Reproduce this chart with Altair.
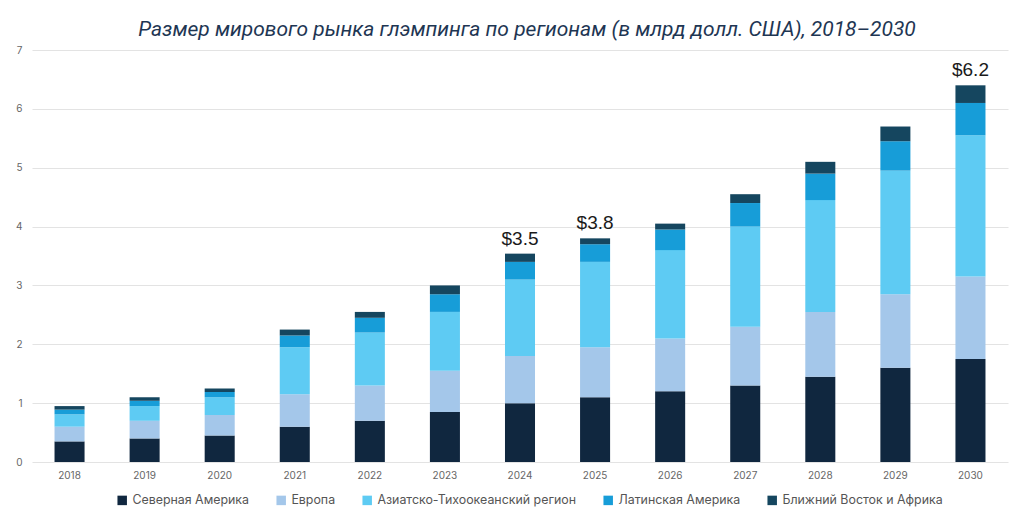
import altair as alt
import pandas as pd

# Years and regional market sizes (USD bn), bottom-to-top stacking order
years = [str(y) for y in range(2018, 2031)]
regions = [
    "Северная Америка",
    "Европа",
    "Азиатско-Тихоокеанский регион",
    "Латинская Америка",
    "Ближний Восток и Африка",
]
north_america = [0.35, 0.40, 0.45, 0.60, 0.70, 0.85, 1.00, 1.10, 1.20, 1.30, 1.45, 1.60, 1.75]
europe        = [0.25, 0.30, 0.35, 0.55, 0.60, 0.70, 0.80, 0.85, 0.90, 1.00, 1.10, 1.25, 1.40]
asia_pacific  = [0.21, 0.25, 0.30, 0.80, 0.90, 1.00, 1.30, 1.45, 1.50, 1.70, 1.90, 2.10, 2.40]
latin_america = [0.08, 0.09, 0.09, 0.20, 0.25, 0.30, 0.30, 0.30, 0.35, 0.40, 0.45, 0.50, 0.55]
mea           = [0.06, 0.06, 0.06, 0.10, 0.10, 0.15, 0.14, 0.10, 0.10, 0.15, 0.20, 0.25, 0.30]

colors = ["#10273f", "#a4c7ea", "#5ecbf3", "#179dd8", "#15465f"]

# Total-size callouts above selected years
label_years = ["2024", "2025", "2030"]
label_texts = ["$3.5", "$3.8", "$6.2"]

series = [north_america, europe, asia_pacific, latin_america, mea]
rows = []
for r_idx, (name, vals) in enumerate(zip(regions, series)):
    for year, v in zip(years, vals):
        rows.append({"year": year, "region": name, "value": v, "order": r_idx})
df = pd.DataFrame(rows)

totals = df.groupby("year", as_index=False)["value"].sum()
lab = pd.DataFrame({"year": label_years, "text": label_texts}).merge(totals, on="year")

x_enc = alt.X(
    "year:N",
    sort=years,
    title=None,
    scale=alt.Scale(paddingInner=0.6, paddingOuter=0.3),
    axis=alt.Axis(
        labelAngle=0, labelFontSize=10, labelColor="#666666", labelFont="Inter",
        ticks=False, domain=False, labelPadding=8, grid=False,
    ),
)

bars = alt.Chart(df).mark_bar().encode(
    x=x_enc,
    y=alt.Y(
        "value:Q",
        stack="zero",
        title=None,
        scale=alt.Scale(domain=[0, 7], nice=False),
        axis=alt.Axis(
            values=list(range(0, 8)), format="d", labelFontSize=10,
            labelColor="#666666", labelFont="Inter", ticks=False, domain=False,
            labelPadding=10, gridColor="#e3e3e3", gridWidth=1,
        ),
    ),
    color=alt.Color(
        "region:N",
        scale=alt.Scale(domain=regions, range=colors),
        legend=alt.Legend(
            title=None, orient="none", direction="horizontal",
            legendX=84, legendY=444, symbolType="square", symbolSize=90,
            symbolStrokeWidth=0, labelFontSize=12.4, labelColor="#555555",
            labelFont="Inter", columnPadding=25, labelOffset=4,
            labelLimit=400, columns=5,
        ),
    ),
    order=alt.Order("order:Q", sort="ascending"),
)

callouts = alt.Chart(lab).mark_text(
    baseline="bottom", dy=-5, fontSize=19, font="Liberation Sans", color="#1a1a1a"
).encode(
    x=alt.X("year:N", sort=years),
    y=alt.Y("value:Q"),
    text="text:N",
)

chart = (
    alt.layer(bars, callouts)
    .properties(
        width=976,
        height=412,
        autosize=alt.AutoSizeParams(type="none"),
        padding={"left": 32, "top": 50, "right": 16, "bottom": 53},
        title=alt.TitleParams(
            "Размер мирового рынка глэмпинга по регионам (в млрд долл. США), 2018–2030",
            font="Roboto", fontSize=21, fontStyle="italic", fontWeight="normal",
            color="#1e3653", anchor="middle", offset=5, dx=7,
        ),
        background="white",
    )
    .configure_view(stroke=None)
)

chart.save("out.html", embed_options={"renderer": "svg", "actions": False})
